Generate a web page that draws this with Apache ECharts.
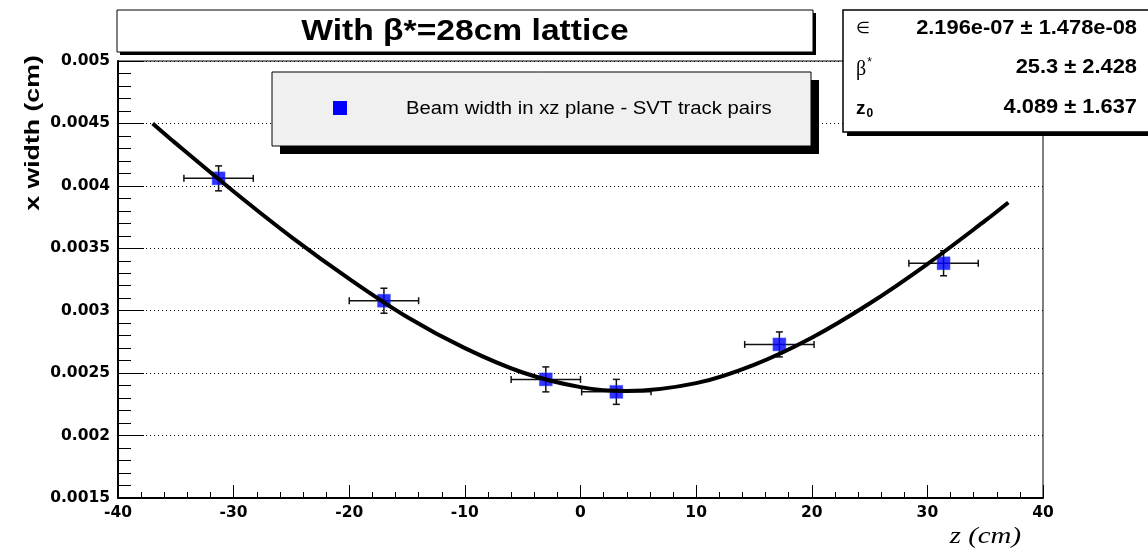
<!DOCTYPE html>
<html>
<head>
<meta charset="utf-8">
<script src="https://cdn.jsdelivr.net/npm/echarts@6/dist/echarts.min.js"></script>
<style>html,body{margin:0;padding:0;background:#fff;}#c{width:1148px;height:552px;}</style>
</head>
<body>
<div id="c"></div>
<script>
// ---- data ----
const zPoints = [-31.3, -17.0, -3.0, 3.1, 17.2, 31.4];
const widthPoints = [0.00406, 0.00308, 0.00245, 0.00235, 0.00273, 0.00338];
const zErrors = [3.0, 3.0, 3.0, 3.0, 3.0, 3.0];
const widthErrors = [0.0001, 0.0001, 0.0001, 0.0001, 0.0001, 0.0001];

const curveZ = [-37, -35, -30, -25, -20, -15, -10, -5, 0, 4, 10, 15, 20, 25, 30, 35, 37];
const curveWidth = [0.00450, 0.00434, 0.003955, 0.00359, 0.003255, 0.00295, 0.00270, 0.002505, 0.002388, 0.002357, 0.00242, 0.002567, 0.002784, 0.003058, 0.003374, 0.003721, 0.003867];

const titleText = 'With β*=28cm lattice';
const legendText = 'Beam width in xz plane - SVT track pairs';
const statNames = ['∈', 'β', 'z'];
const statValues = ['2.196e-07 ± 1.478e-08', '25.3 ± 2.428', '4.089 ± 1.637'];
const yAxisTitle = 'x width (cm)';
const xAxisTitle = 'z (cm)';

// ---- build ----
const pointData = zPoints.map((z, i) => [z, widthPoints[i]]);
const errData = zPoints.map((z, i) => [z, widthPoints[i], zErrors[i], widthErrors[i]]);
const curveData = curveZ.map((z, i) => [z, curveWidth[i]]);

const font = 'Liberation Sans, Arial, Helvetica, sans-serif';
const tickFont = 'DejaVu Sans';
const chart = echarts.init(document.getElementById('c'), null, {renderer: 'canvas'});

function errRender(params, api) {
  const x = api.value(0), y = api.value(1), ex = api.value(2), ey = api.value(3);
  const c = api.coord([x, y]);
  const l = api.coord([x - ex, y]);
  const r = api.coord([x + ex, y]);
  const t = api.coord([x, y + ey]);
  const b = api.coord([x, y - ey]);
  const cap = 3.5;
  const st = {stroke: '#111', lineWidth: 1.5};
  const lines = [
    [l[0], c[1], r[0], c[1]],
    [l[0], c[1] - cap, l[0], c[1] + cap],
    [r[0], c[1] - cap, r[0], c[1] + cap],
    [c[0], t[1], c[0], b[1]],
    [c[0] - cap, t[1], c[0] + cap, t[1]],
    [c[0] - cap, b[1], c[0] + cap, b[1]]
  ];
  return {
    type: 'group',
    children: lines.map(p => ({type: 'line', shape: {x1: p[0], y1: p[1], x2: p[2], y2: p[3]}, style: st}))
  };
}

const option = {
  animation: false,
  backgroundColor: '#fff',
  grid: {left: 118, right: 105, top: 61, bottom: 54, show: true, borderColor: '#000', borderWidth: 1, backgroundColor: 'transparent'},
  xAxis: {
    type: 'value', min: -40, max: 40, interval: 10,
    axisLine: {show: true, onZero: false, lineStyle: {color: '#000', width: 2}},
    axisTick: {show: true, inside: true, length: 13, lineStyle: {color: '#000', width: 1}},
    minorTick: {show: true, splitNumber: 5, length: 6, lineStyle: {color: '#000', width: 1}},
    axisLabel: {color: '#000', fontFamily: tickFont, fontWeight: 'bold', fontSize: 15.5, margin: 7},
    splitLine: {show: false}
  },
  yAxis: {
    type: 'value', min: 0.0015, max: 0.005, interval: 0.0005,
    axisLine: {show: true, onZero: false, lineStyle: {color: '#000', width: 2}},
    axisTick: {show: true, inside: true, length: 26, lineStyle: {color: '#000', width: 1}},
    minorTick: {show: true, splitNumber: 5, length: 13, lineStyle: {color: '#000', width: 1}},
    axisLabel: {color: '#000', fontFamily: tickFont, fontWeight: 'bold', fontSize: 15.5, margin: 8,
      formatter: v => String(parseFloat(v.toFixed(5)))},
    splitLine: {show: true, lineStyle: {color: '#000', width: 1, type: [1, 3]}}
  },
  series: [
    {type: 'custom', renderItem: errRender, data: errData, z: 3, silent: true},
    {type: 'scatter', data: pointData, symbol: 'rect', symbolSize: 13,
      itemStyle: {color: '#0000ff', borderColor: '#3a5cff', borderWidth: 0.5}, z: 4},
    {type: 'line', data: curveData, smooth: 0.35, showSymbol: false, symbol: 'none',
      lineStyle: {color: '#000', width: 4}, z: 5}
  ],
  graphic: [
    // title box
    {type: 'rect', z: 100, shape: {x: 120, y: 13, width: 696, height: 42}, style: {fill: '#000'}},
    {type: 'rect', z: 101, shape: {x: 117, y: 10, width: 696, height: 42}, style: {fill: '#fff', stroke: '#000', lineWidth: 1}},
    {type: 'text', z: 102, x: 465, y: 32, scaleX: 1.12, style: {text: titleText, font: 'bold 30px ' + font, fill: '#000', align: 'center', verticalAlign: 'middle'}},
    // legend box
    {type: 'rect', z: 100, shape: {x: 280, y: 80, width: 539, height: 74}, style: {fill: '#000'}},
    {type: 'rect', z: 101, shape: {x: 272, y: 72, width: 539, height: 74}, style: {fill: '#f0f0f0', stroke: '#000', lineWidth: 1}},
    {type: 'rect', z: 102, shape: {x: 333, y: 101, width: 14, height: 14}, style: {fill: '#0000ff'}},
    {type: 'text', z: 102, x: 406, y: 109, scaleX: 1.16, style: {text: legendText, font: '17.5px ' + font, fill: '#000', align: 'left', verticalAlign: 'middle'}},
    // stats box
    {type: 'rect', z: 100, shape: {x: 847, y: 14, width: 310, height: 122}, style: {fill: '#000'}},
    {type: 'rect', z: 101, shape: {x: 843, y: 10, width: 310, height: 122}, style: {fill: '#fff', stroke: '#000', lineWidth: 1.5}},
    {type: 'text', z: 102, x: 856, y: 29, style: {text: statNames[0], font: '16px ' + font, fill: '#000', verticalAlign: 'middle'}},
    {type: 'text', z: 102, x: 856, y: 70, style: {
      text: '{a|' + statNames[1] + '}{s|*}', verticalAlign: 'middle',
      rich: {a: {font: '20px Liberation Serif, serif', fill: '#000'}, s: {font: '12px ' + font, fill: '#000', padding: [0, 0, 14, 1]}}}},
    {type: 'text', z: 102, x: 856, y: 109, style: {
      text: '{a|' + statNames[2] + '}{s|0}', verticalAlign: 'middle',
      rich: {a: {font: 'bold 19px ' + font, fill: '#000'}, s: {font: 'bold 12px ' + font, fill: '#000', padding: [10, 0, 0, 1]}}}},
    {type: 'text', z: 102, x: 1137, y: 29, scaleX: 1.12, style: {text: statValues[0], font: 'bold 19.5px ' + font, fill: '#000', align: 'right', verticalAlign: 'middle'}},
    {type: 'text', z: 102, x: 1137, y: 68, scaleX: 1.12, style: {text: statValues[1], font: 'bold 19.5px ' + font, fill: '#000', align: 'right', verticalAlign: 'middle'}},
    {type: 'text', z: 102, x: 1137, y: 108, scaleX: 1.12, style: {text: statValues[2], font: 'bold 19.5px ' + font, fill: '#000', align: 'right', verticalAlign: 'middle'}},
    // axis titles
    {type: 'text', z: 102, x: 33, y: 133, rotation: Math.PI / 2, scaleX: 1.27, style: {text: yAxisTitle, font: 'bold 21px ' + font, fill: '#000', align: 'center', verticalAlign: 'middle'}},
    {type: 'text', z: 102, x: 1021, y: 537, scaleX: 1.2, style: {text: xAxisTitle, font: 'italic 24px Liberation Serif, Times New Roman, serif', fill: '#000', align: 'right', verticalAlign: 'middle'}}
  ]
};
chart.setOption(option);
</script>
</body>
</html>
